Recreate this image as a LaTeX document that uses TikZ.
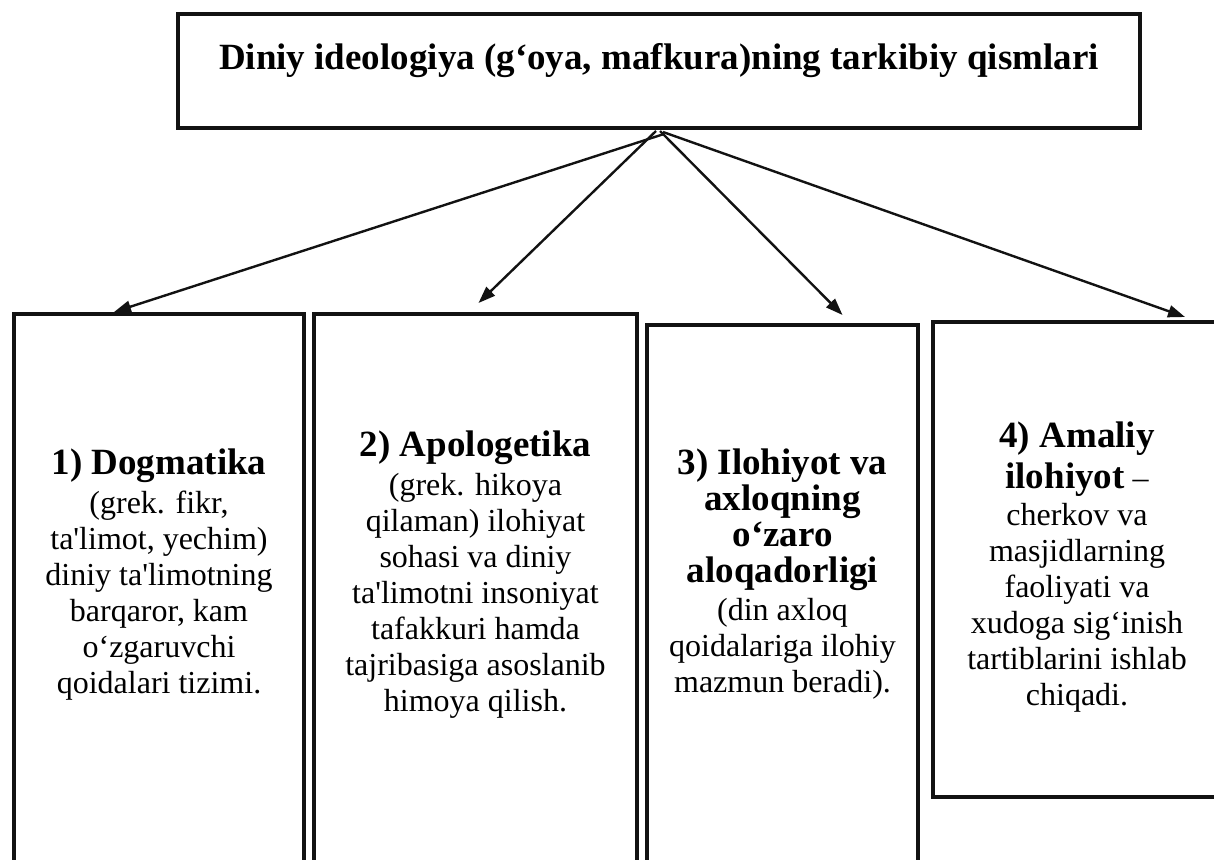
\documentclass[tikz,border=0pt]{standalone}
\usepackage{fontspec}
\setmainfont{Liberation Serif}[Ligatures=TeXOff]
\usetikzlibrary{arrows.meta,calc}
\newcommand{\hfnt}{\fontsize{37}{37}\selectfont\bfseries}
\begin{document}
\begin{tikzpicture}[x=1pt,y=-1pt,
  frame/.style={draw=black!93, line width=4.5pt, fill=white, inner sep=0pt, outer sep=0pt, anchor=north west},
  conn/.style={draw=black!93, line width=2.4pt, -{Triangle[length=17pt,width=12pt]}},
  txt/.style={align=center, font=\fontsize{32}{36}\selectfont, inner sep=0pt, text=black},
  ttl/.style={font=\fontsize{37}{40}\selectfont\bfseries, inner sep=0pt, anchor=base, text=black}]
\useasboundingbox (0,0) rectangle (1214,859);
\fill[white] (0,0) rectangle (1214,859);
% boxes
\node[frame, minimum width=962pt, minimum height=114pt] (top) at (178,14) {};
\node[frame, minimum width=290pt, minimum height=600pt] (b1) at (14,314) {};
\node[frame, minimum width=323pt, minimum height=600pt] (b2) at (314,314) {};
\node[frame, minimum width=271pt, minimum height=600pt] (b3) at (647,325) {};
\node[frame, minimum width=300pt, minimum height=475pt] (b4) at (933,322) {};
% texts
\node[ttl] (title) at (659,69) {Diniy ideologiya (g‘oya, mafkura)ning tarkibiy qismlari};
\node[txt] (t1) at (159,575) {{\hfnt 1) Dogmatika}\\[3pt] (grek. fikr,\\ ta'limot, yechim)\\ diniy ta'limotning\\ barqaror, kam\\ o‘zgaruvchi\\ qoidalari tizimi.};
\node[txt] (t2) at (475.5,575) {{\hfnt 2) Apologetika}\\[3pt] (grek. hikoya\\ qilaman) ilohiyat\\ sohasi va diniy\\ ta'limotni insoniyat\\ tafakkuri hamda\\ tajribasiga asoslanib\\ himoya qilish.};
\node[txt] (t3) at (782.5,574) {{\hfnt 3) Ilohiyot va}\\ {\hfnt axloqning}\\ {\hfnt o‘zaro}\\ {\hfnt aloqadorligi}\\[2pt] (din axloq\\ qoidalariga ilohiy\\ mazmun beradi).};
\node[txt] (t4) at (1077,567) {{\hfnt 4) Amaliy}\\[5pt] {\hfnt ilohiyot} –\\[1pt] cherkov va\\ masjidlarning\\ faoliyati va\\ xudoga sig‘inish\\ tartiblarini ishlab\\ chiqadi.};
% connectors
\coordinate (s1) at ($(top.south)+(5,6)$);
\coordinate (s2) at ($(top.south)+(-3,3)$);
\coordinate (s3) at ($(top.south)+(1,3)$);
\coordinate (s4) at ($(top.south)+(4,4)$);
\draw[conn] (s1) -- ($(b1.north)+(-45,-2)$);
\draw[conn] (s2) -- ($(b2.north)+(3,-11)$);
\draw[conn] (s3) -- ($(b3.north)+(60,-10)$);
\draw[conn] (s4) -- ($(b4.north west)+(252,-5)$);
\end{tikzpicture}
\end{document}
